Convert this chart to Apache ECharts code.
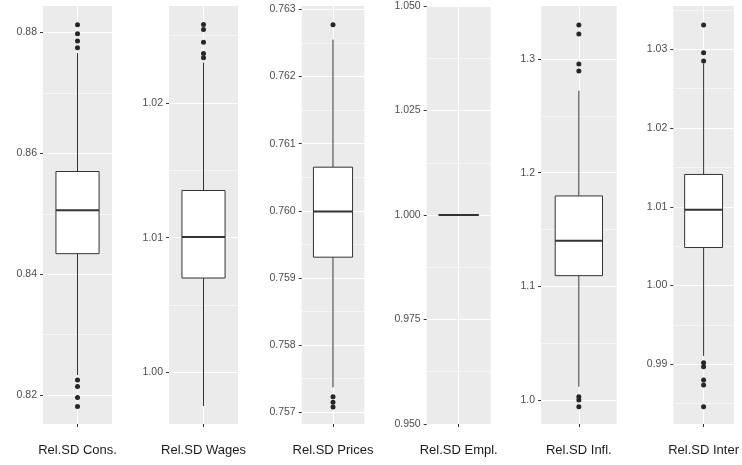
<!DOCTYPE html>
<html>
<head>
<meta charset="utf-8">
<script src="https://cdn.jsdelivr.net/npm/echarts@6.0.0/dist/echarts.min.js"></script>
<style>
  html, body { margin: 0; padding: 0; background: #fff; }
  #chart { width: 742px; height: 465px; }
</style>
</head>
<body>
<div id="chart"></div>
<script>
// one panel per measure, each with its own y scale (like facet_wrap scales = "free")
const categories = ['Rel.SD Cons.', 'Rel.SD Wages', 'Rel.SD Prices', 'Rel.SD Empl.', 'Rel.SD Infl.', 'Rel.SD Inter'];

// box statistics
const lowerWhisker = [0.8233, 0.9975, 0.75737, 1.000, 1.0117, 0.99105];
const firstQuartile = [0.8434, 1.0070, 0.75931, 1.000, 1.1094, 1.00483];
const medianValue = [0.8506, 1.01005, 0.75999, 1.000, 1.1402, 1.00962];
const thirdQuartile = [0.8570, 1.0135, 0.76065, 1.000, 1.1795, 1.01411];
const upperWhisker = [0.8766, 1.0230, 0.76255, 1.000, 1.2721, 1.0282];

const outliers = [
    [0.8813, 0.8798, 0.8786, 0.8775, 0.8225, 0.8214, 0.8196, 0.8181],
    [1.02582, 1.02545, 1.02451, 1.02367, 1.02335],
    [0.76277, 0.75723, 0.75715, 0.75708],
    [],
    [1.3299, 1.3220, 1.2956, 1.2894, 1.0029, 1.0000, 0.9941],
    [1.03309, 1.02957, 1.0285, 0.99020, 0.98970, 0.98801, 0.98737, 0.98461]
];

// y axis ranges and tick labels
const yMin = [0.8152, 0.99616, 0.756826, 0.950, 0.9789, 0.98242];
const yMax = [0.8844, 1.0272, 0.76305, 1.050, 1.3466, 1.0355];
const yTicks = [
    [0.82, 0.84, 0.86, 0.88],
    [1.00, 1.01, 1.02],
    [0.757, 0.758, 0.759, 0.760, 0.761, 0.762, 0.763],
    [0.950, 0.975, 1.000, 1.025, 1.050],
    [1.0, 1.1, 1.2, 1.3],
    [0.99, 1.00, 1.01, 1.02, 1.03]
];
const yDecimals = [2, 2, 3, 3, 1, 2];

// panel placement (pixels)
const panelLeft = [43, 169, 301.7, 426.7, 541, 673.3];
const panelWidth = [69, 69, 62.6, 64, 75.7, 70];
const PANEL_TOP = 6;
const PANEL_HEIGHT = 418;

const FONT = '"Liberation Sans", Arial, sans-serif';
const chart = echarts.init(document.getElementById('chart'));

// minor grid lines sit half way between the major ones
function minorBreaks(ticks, lo, hi) {
    const step = ticks[1] - ticks[0];
    const out = [];
    for (let k = -1; k < ticks.length; k++) {
        const v = ticks[0] + (k + 0.5) * step;
        if (v > lo && v < hi) out.push(+v.toFixed(6));
    }
    return out;
}

function renderBox(params, api) {
    const x = api.value(0);
    const pLow = api.coord([x, api.value(1)]);
    const pQ1 = api.coord([x, api.value(2)]);
    const pMed = api.coord([x, api.value(3)]);
    const pQ3 = api.coord([x, api.value(4)]);
    const pHigh = api.coord([x, api.value(5)]);
    const half = api.size([0.75, 0])[0] / 2;
    const stroke = { stroke: '#333333', lineWidth: 1 };
    return {
        type: 'group',
        children: [
            { type: 'line', shape: { x1: pQ3[0], y1: pQ3[1], x2: pHigh[0], y2: pHigh[1] }, style: stroke },
            { type: 'line', shape: { x1: pLow[0], y1: pLow[1], x2: pQ1[0], y2: pQ1[1] }, style: stroke },
            {
                type: 'rect',
                shape: { x: pQ3[0] - half, y: pQ3[1], width: half * 2, height: pQ1[1] - pQ3[1] },
                style: { fill: '#ffffff', stroke: '#333333', lineWidth: 1 }
            },
            {
                type: 'line',
                shape: { x1: pMed[0] - half, y1: pMed[1], x2: pMed[0] + half, y2: pMed[1] },
                style: { stroke: '#333333', lineWidth: 2 }
            }
        ]
    };
}

const grids = [], xAxes = [], yAxes = [], series = [];

categories.forEach(function (name, i) {
    grids.push({
        show: true,
        left: panelLeft[i],
        width: panelWidth[i],
        top: PANEL_TOP,
        height: PANEL_HEIGHT,
        backgroundColor: '#EBEBEB',
        borderWidth: 0
    });

    xAxes.push({
        type: 'value',
        gridIndex: i,
        min: 0.4,
        max: 1.6,
        axisLine: { show: false },
        axisTick: { show: true, length: 3, customValues: [1], lineStyle: { color: '#333333', width: 1 } },
        axisLabel: {
            customValues: [1],
            formatter: function () { return name; },
            margin: 20,
            fontSize: 13,
            fontFamily: FONT,
            color: '#1a1a1a'
        },
        splitLine: { show: true, lineStyle: { color: '#ffffff', width: 1.1 } }
    });

    // hidden axis that only carries the thin minor lines
    yAxes.push({
        type: 'value',
        gridIndex: i,
        min: yMin[i],
        max: yMax[i],
        axisLine: { show: false },
        axisTick: { show: false, customValues: minorBreaks(yTicks[i], yMin[i], yMax[i]) },
        axisLabel: { show: false },
        splitLine: { show: true, lineStyle: { color: '#ffffff', width: 0.55 } }
    });

    // visible axis with major lines, ticks and labels
    yAxes.push({
        type: 'value',
        gridIndex: i,
        position: 'left',
        min: yMin[i],
        max: yMax[i],
        axisLine: { show: false },
        axisTick: { show: true, length: 3, customValues: yTicks[i], lineStyle: { color: '#333333', width: 1 } },
        axisLabel: {
            customValues: yTicks[i],
            formatter: function (v) { return v.toFixed(yDecimals[i]); },
            margin: 6,
            fontSize: 10.5,
            fontFamily: FONT,
            color: '#4D4D4D'
        },
        splitLine: { show: true, lineStyle: { color: '#ffffff', width: 1.1 } }
    });

    series.push({
        type: 'custom',
        xAxisIndex: i,
        yAxisIndex: i * 2 + 1,
        renderItem: renderBox,
        encode: { x: 0, y: [1, 2, 3, 4, 5] },
        data: [[1, lowerWhisker[i], firstQuartile[i], medianValue[i], thirdQuartile[i], upperWhisker[i]]],
        z: 2
    });

    series.push({
        type: 'scatter',
        xAxisIndex: i,
        yAxisIndex: i * 2 + 1,
        symbolSize: 5,
        itemStyle: { color: '#262626', opacity: 1 },
        data: outliers[i].map(function (v) { return [1, v]; }),
        z: 3
    });
});

chart.setOption({
    backgroundColor: '#ffffff',
    animation: false,
    grid: grids,
    xAxis: xAxes,
    yAxis: yAxes,
    series: series
});
</script>
</body>
</html>
